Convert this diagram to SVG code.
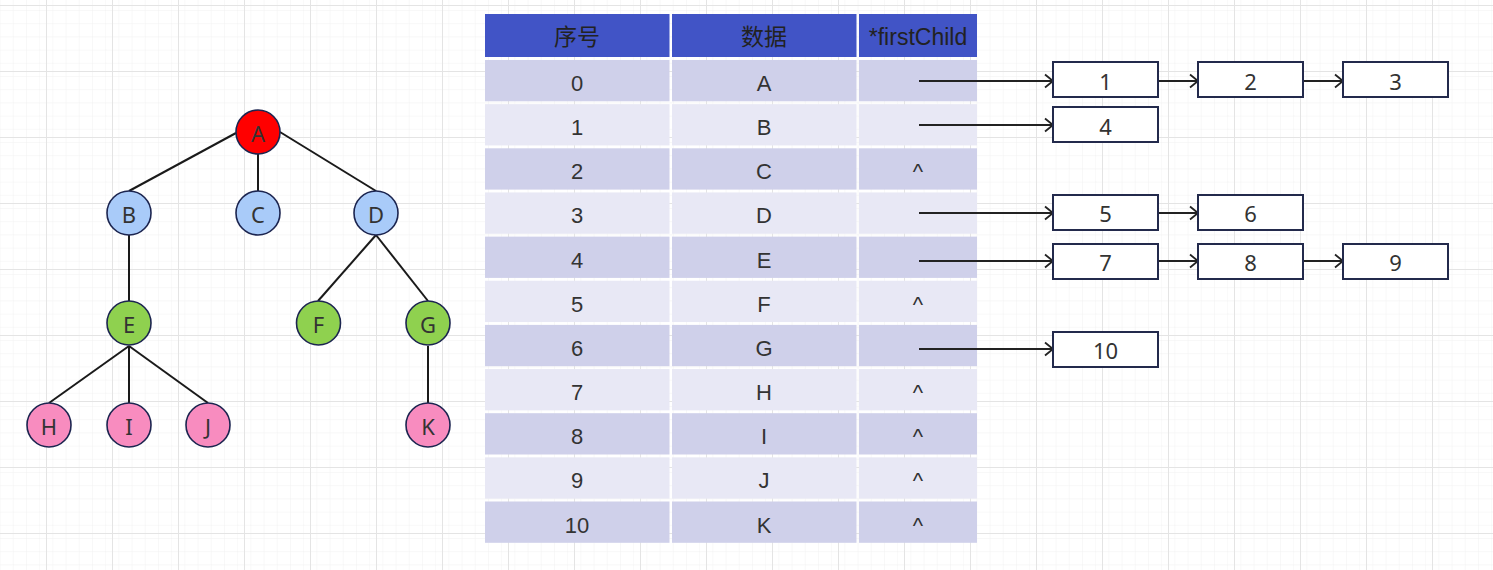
<svg xmlns="http://www.w3.org/2000/svg" width="1493" height="570" viewBox="0 0 1493 570">
<defs>
<pattern id="minor" x="46" y="5" width="13.2" height="13.2" patternUnits="userSpaceOnUse">
<path d="M0,0 H13.2 M0,0 V13.2" fill="none" stroke="#f1f1f1" stroke-width="1"/>
</pattern>
<pattern id="major" x="46" y="5" width="66" height="66" patternUnits="userSpaceOnUse">
<rect width="66" height="66" fill="url(#minor)"/>
<path d="M0,0.5 H66 M0.5,0 V66" fill="none" stroke="#e4e4e4" stroke-width="1"/>
</pattern>
<marker id="arr" markerUnits="userSpaceOnUse" markerWidth="14" markerHeight="16" refX="10" refY="8" orient="auto">
<path d="M2,1.5 L10,8 L2,14.5" fill="none" stroke="#222" stroke-width="1.8"/>
</marker>
</defs>
<style>
.edge{stroke:#1a1a1a;stroke-width:2;fill:none}
.node{stroke:#1c2550;stroke-width:1.6}
.nt{font-family:"Noto Sans","Open Sans",sans-serif;font-size:22px;fill:#333;text-anchor:middle}
.hd{fill:#4154c6}
.odd{fill:#cfd0ea}
.even{fill:#e8e8f5}
.tt{font-family:"Liberation Sans",Arial,"Noto Sans CJK SC",sans-serif;font-size:22px;fill:#333;text-anchor:middle}
.ht{font-family:"Liberation Sans",Arial,"Noto Sans CJK SC",sans-serif;font-size:23px;fill:#222;text-anchor:middle}
.box{fill:#fff;stroke:#232a4c;stroke-width:2}
.ln{stroke:#222;stroke-width:1.8;fill:none}
</style>
<rect width="1493" height="570" fill="#fff"/>
<rect width="1493" height="570" fill="url(#major)"/>

<g id="tree-edges">
<line class="edge" x1="236" y1="133" x2="129" y2="191"/>
<line class="edge" x1="258" y1="154" x2="258" y2="191"/>
<line class="edge" x1="280" y1="132" x2="376" y2="191"/>
<line class="edge" x1="129" y1="235" x2="129" y2="301"/>
<line class="edge" x1="376" y1="235" x2="318" y2="301"/>
<line class="edge" x1="376" y1="235" x2="428" y2="301"/>
<line class="edge" x1="129" y1="346" x2="49" y2="403"/>
<line class="edge" x1="129" y1="346" x2="129" y2="403"/>
<line class="edge" x1="129" y1="346" x2="208" y2="403"/>
<line class="edge" x1="428" y1="346" x2="428" y2="403"/>
</g>

<g id="node-A"><circle class="node" cx="258" cy="132" r="22" fill="#ff0000"/><text class="nt" x="258" y="141.5">A</text></g>
<g id="node-B"><circle class="node" cx="129" cy="213" r="22" fill="#a9cbf9"/><text class="nt" x="129" y="222.5">B</text></g>
<g id="node-C"><circle class="node" cx="258" cy="213" r="22" fill="#a9cbf9"/><text class="nt" x="258" y="222.5">C</text></g>
<g id="node-D"><circle class="node" cx="376" cy="213" r="22" fill="#a9cbf9"/><text class="nt" x="376" y="222.5">D</text></g>
<g id="node-E"><circle class="node" cx="129" cy="323" r="22" fill="#8fd14f"/><text class="nt" x="129" y="332.5">E</text></g>
<g id="node-F"><circle class="node" cx="318.5" cy="323" r="22" fill="#8fd14f"/><text class="nt" x="318.5" y="332.5">F</text></g>
<g id="node-G"><circle class="node" cx="428" cy="323" r="22" fill="#8fd14f"/><text class="nt" x="428" y="332.5">G</text></g>
<g id="node-H"><circle class="node" cx="49" cy="425" r="22" fill="#f88cbf"/><text class="nt" x="49" y="434.5">H</text></g>
<g id="node-I"><circle class="node" cx="129" cy="425" r="22" fill="#f88cbf"/><text class="nt" x="129" y="434.5">I</text></g>
<g id="node-J"><circle class="node" cx="208" cy="425" r="22" fill="#f88cbf"/><text class="nt" x="208" y="434.5">J</text></g>
<g id="node-K"><circle class="node" cx="428" cy="425" r="22" fill="#f88cbf"/><text class="nt" x="428" y="434.5">K</text></g>

<g id="table">
<rect class="hd" x="485" y="14" width="184.5" height="43"/>
<rect class="hd" x="672" y="14" width="184.5" height="43"/>
<rect class="hd" x="859" y="14" width="118" height="43"/>
<text class="ht" x="577" y="45">序号</text>
<text class="ht" x="764" y="45">数据</text>
<text class="ht" x="918" y="45">*firstChild</text>

<g id="row0"><rect class="odd" x="485" y="60" width="184.5" height="41.3"/><rect class="odd" x="672" y="60" width="184.5" height="41.3"/><rect class="odd" x="859" y="60" width="118" height="41.3"/><text class="tt" x="577" y="91">0</text><text class="tt" x="764" y="91">A</text></g>
<g id="row1"><rect class="even" x="485" y="104.15" width="184.5" height="41.3"/><rect class="even" x="672" y="104.15" width="184.5" height="41.3"/><rect class="even" x="859" y="104.15" width="118" height="41.3"/><text class="tt" x="577" y="135.15">1</text><text class="tt" x="764" y="135.15">B</text></g>
<g id="row2"><rect class="odd" x="485" y="148.3" width="184.5" height="41.3"/><rect class="odd" x="672" y="148.3" width="184.5" height="41.3"/><rect class="odd" x="859" y="148.3" width="118" height="41.3"/><text class="tt" x="577" y="179.3">2</text><text class="tt" x="764" y="179.3">C</text><text class="tt" x="918" y="179.3">^</text></g>
<g id="row3"><rect class="even" x="485" y="192.45" width="184.5" height="41.3"/><rect class="even" x="672" y="192.45" width="184.5" height="41.3"/><rect class="even" x="859" y="192.45" width="118" height="41.3"/><text class="tt" x="577" y="223.45">3</text><text class="tt" x="764" y="223.45">D</text></g>
<g id="row4"><rect class="odd" x="485" y="236.6" width="184.5" height="41.3"/><rect class="odd" x="672" y="236.6" width="184.5" height="41.3"/><rect class="odd" x="859" y="236.6" width="118" height="41.3"/><text class="tt" x="577" y="267.6">4</text><text class="tt" x="764" y="267.6">E</text></g>
<g id="row5"><rect class="even" x="485" y="280.75" width="184.5" height="41.3"/><rect class="even" x="672" y="280.75" width="184.5" height="41.3"/><rect class="even" x="859" y="280.75" width="118" height="41.3"/><text class="tt" x="577" y="311.75">5</text><text class="tt" x="764" y="311.75">F</text><text class="tt" x="918" y="311.75">^</text></g>
<g id="row6"><rect class="odd" x="485" y="324.9" width="184.5" height="41.3"/><rect class="odd" x="672" y="324.9" width="184.5" height="41.3"/><rect class="odd" x="859" y="324.9" width="118" height="41.3"/><text class="tt" x="577" y="355.9">6</text><text class="tt" x="764" y="355.9">G</text></g>
<g id="row7"><rect class="even" x="485" y="369.05" width="184.5" height="41.3"/><rect class="even" x="672" y="369.05" width="184.5" height="41.3"/><rect class="even" x="859" y="369.05" width="118" height="41.3"/><text class="tt" x="577" y="400.05">7</text><text class="tt" x="764" y="400.05">H</text><text class="tt" x="918" y="400.05">^</text></g>
<g id="row8"><rect class="odd" x="485" y="413.2" width="184.5" height="41.3"/><rect class="odd" x="672" y="413.2" width="184.5" height="41.3"/><rect class="odd" x="859" y="413.2" width="118" height="41.3"/><text class="tt" x="577" y="444.2">8</text><text class="tt" x="764" y="444.2">I</text><text class="tt" x="918" y="444.2">^</text></g>
<g id="row9"><rect class="even" x="485" y="457.35" width="184.5" height="41.3"/><rect class="even" x="672" y="457.35" width="184.5" height="41.3"/><rect class="even" x="859" y="457.35" width="118" height="41.3"/><text class="tt" x="577" y="488.35">9</text><text class="tt" x="764" y="488.35">J</text><text class="tt" x="918" y="488.35">^</text></g>
<g id="row10"><rect class="odd" x="485" y="501.5" width="184.5" height="41.3"/><rect class="odd" x="672" y="501.5" width="184.5" height="41.3"/><rect class="odd" x="859" y="501.5" width="118" height="41.3"/><text class="tt" x="577" y="532.5">10</text><text class="tt" x="764" y="532.5">K</text><text class="tt" x="918" y="532.5">^</text></g>
</g>

<g id="connectors">
<line class="ln" x1="919" y1="81" x2="1053" y2="81" marker-end="url(#arr)"/>
<line class="ln" x1="1158" y1="81" x2="1198" y2="81" marker-end="url(#arr)"/>
<line class="ln" x1="1303" y1="81" x2="1343" y2="81" marker-end="url(#arr)"/>
<line class="ln" x1="919" y1="125" x2="1053" y2="125" marker-end="url(#arr)"/>
<line class="ln" x1="919" y1="213" x2="1053" y2="213" marker-end="url(#arr)"/>
<line class="ln" x1="1158" y1="213" x2="1198" y2="213" marker-end="url(#arr)"/>
<line class="ln" x1="919" y1="261" x2="1053" y2="261" marker-end="url(#arr)"/>
<line class="ln" x1="1158" y1="261" x2="1198" y2="261" marker-end="url(#arr)"/>
<line class="ln" x1="1303" y1="261" x2="1343" y2="261" marker-end="url(#arr)"/>
<line class="ln" x1="919" y1="349" x2="1053" y2="349" marker-end="url(#arr)"/>
</g>

<g id="box-1"><rect class="box" x="1053" y="62" width="105" height="35"/><text class="nt" x="1105.5" y="89.5">1</text></g>
<g id="box-2"><rect class="box" x="1198" y="62" width="105" height="35"/><text class="nt" x="1250.5" y="89.5">2</text></g>
<g id="box-3"><rect class="box" x="1343" y="62" width="105" height="35"/><text class="nt" x="1395.5" y="89.5">3</text></g>
<g id="box-4"><rect class="box" x="1053" y="107" width="105" height="35"/><text class="nt" x="1105.5" y="134.5">4</text></g>
<g id="box-5"><rect class="box" x="1053" y="195" width="105" height="35"/><text class="nt" x="1105.5" y="222">5</text></g>
<g id="box-6"><rect class="box" x="1198" y="195" width="105" height="35"/><text class="nt" x="1250.5" y="222">6</text></g>
<g id="box-7"><rect class="box" x="1053" y="244" width="105" height="35"/><text class="nt" x="1105.5" y="271">7</text></g>
<g id="box-8"><rect class="box" x="1198" y="244" width="105" height="35"/><text class="nt" x="1250.5" y="271">8</text></g>
<g id="box-9"><rect class="box" x="1343" y="244" width="105" height="35"/><text class="nt" x="1395.5" y="271">9</text></g>
<g id="box-10"><rect class="box" x="1053" y="332" width="105" height="35"/><text class="nt" x="1105.5" y="359">10</text></g>
</svg>
